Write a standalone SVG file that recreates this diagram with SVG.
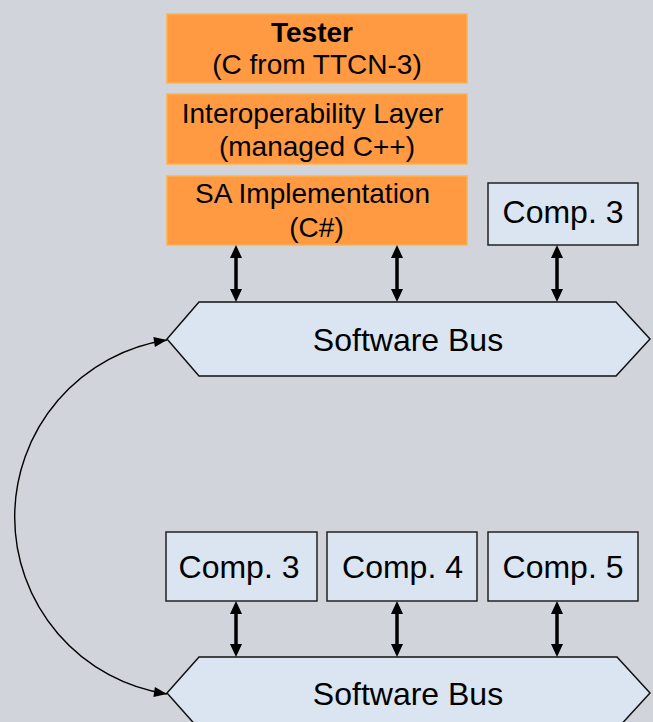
<svg xmlns="http://www.w3.org/2000/svg" width="653" height="722" viewBox="0 0 653 722">
  <style>
    text { font-family: "Liberation Sans", Arial, sans-serif; fill: #000; text-anchor: middle; }
    .layer { fill: #FF9A43; stroke: #FFB24A; stroke-width: 1.5; }
    .comp { fill: #DAE5F1; stroke: #222; stroke-width: 1.5; }
    .bus { fill: #DAE5F1; stroke: #111; stroke-width: 1.5; }
    .t28 { font-size: 28px; }
    .t32 { font-size: 32px; }
    .link { fill: none; stroke: #000; stroke-width: 3.5; }
    .curve { fill: none; stroke: #000; stroke-width: 1.4; }
  </style>
  <defs>
    <!-- wide head for the bus links; its base sits on the line end -->
    <marker id="head" markerUnits="userSpaceOnUse" markerWidth="13" markerHeight="12" refX="0" refY="6" orient="auto-start-reverse" overflow="visible">
      <path d="M0,0 L13,6 L0,12 z" fill="#000"/>
    </marker>
    <!-- head for the bus-to-bus arc; its tip sits on the line end -->
    <marker id="thinhead" markerUnits="userSpaceOnUse" markerWidth="13" markerHeight="10" refX="13" refY="5" orient="auto-start-reverse" overflow="visible">
      <path d="M0,0 L13,5 L0,10 z" fill="#000"/>
    </marker>
  </defs>

  <rect width="653" height="722" fill="#D1D4DB"/>

  <!-- tester stack -->
  <g id="tester">
    <rect class="layer" x="167" y="14" width="300" height="69"/>
    <text class="t28" x="312" y="42" font-weight="bold">Tester</text>
    <text class="t28" x="317" y="74">(C from TTCN-3)</text>
  </g>
  <g id="interop">
    <rect class="layer" x="167" y="94" width="300" height="70"/>
    <text class="t28" x="312.5" y="123">Interoperability Layer</text>
    <text class="t28" x="317" y="156">(managed C++)</text>
  </g>
  <g id="sa-impl">
    <rect class="layer" x="167" y="176" width="300" height="69"/>
    <text class="t28" x="312.5" y="203">SA Implementation</text>
    <text class="t28" x="316.5" y="237">(C#)</text>
  </g>

  <g id="comp3-top">
    <rect class="comp" x="488" y="183" width="150" height="62"/>
    <text class="t32" x="563" y="223">Comp. 3</text>
  </g>

  <g id="bus-top">
    <polygon class="bus" points="199,302 616,302 650,339 616,376 199,376 167,339"/>
    <text class="t32" x="408" y="351">Software Bus</text>
  </g>

  <!-- lower system -->
  <g id="comp3-bottom">
    <rect class="comp" x="166" y="532" width="151" height="69"/>
    <text class="t32" x="239" y="578">Comp. 3</text>
  </g>
  <g id="comp4">
    <rect class="comp" x="327" y="532" width="150" height="69"/>
    <text class="t32" x="402.5" y="578">Comp. 4</text>
  </g>
  <g id="comp5">
    <rect class="comp" x="488" y="532" width="150" height="69"/>
    <text class="t32" x="563" y="578">Comp. 5</text>
  </g>

  <g id="bus-bottom">
    <polygon class="bus" points="199,657 617,657 650,693 617,729 199,729 167,693"/>
    <text class="t32" x="408" y="705">Software Bus</text>
  </g>

  <!-- connectors -->
  <g id="connectors">
    <path class="link" d="M236,258 V289" marker-start="url(#head)" marker-end="url(#head)"/>
    <path class="link" d="M397,258 V289" marker-start="url(#head)" marker-end="url(#head)"/>
    <path class="link" d="M557,258 V289" marker-start="url(#head)" marker-end="url(#head)"/>
    <path class="link" d="M236,614 V644" marker-start="url(#head)" marker-end="url(#head)"/>
    <path class="link" d="M397,614 V644" marker-start="url(#head)" marker-end="url(#head)"/>
    <path class="link" d="M557,614 V644" marker-start="url(#head)" marker-end="url(#head)"/>
    <path class="curve" d="M167,340 A179,179 0 0 0 167,694" marker-start="url(#thinhead)" marker-end="url(#thinhead)"/>
  </g>
</svg>
